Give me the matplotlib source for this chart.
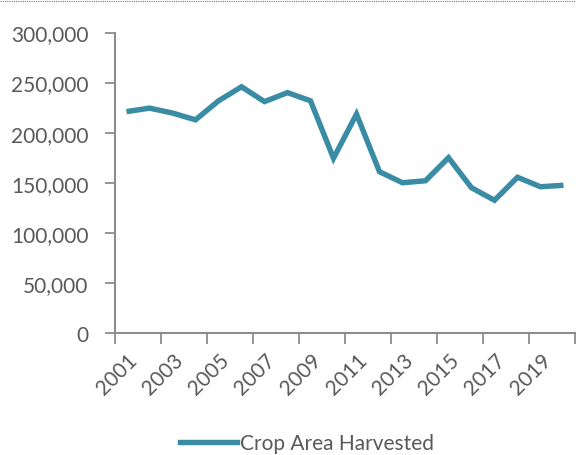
import matplotlib
matplotlib.use("Agg")
import matplotlib.pyplot as plt
from matplotlib.lines import Line2D

years = list(range(2001, 2021))
area = [221000, 224500, 219600, 212800, 231800, 245800, 231000, 240000, 231800, 174500,
        218500, 161000, 150000, 152000, 175000, 145000, 132500, 155500, 146000, 147500]
y_ticks = [0, 50000, 100000, 150000, 200000, 250000, 300000]
series_name = "Crop Area Harvested"

plt.rcParams['font.family'] = ['Lato', 'DejaVu Sans']
W, H = 576, 456
fig = plt.figure(figsize=(W / 100, H / 100), dpi=100)
ax = fig.add_axes([115 / W, 1 - 334 / H, (575 - 115) / W, (334 - 33.5) / H])

col = '#3A8CA4'
grey = '#8C8C8C'
txt = '#595959'
fs = 15
x = list(range(len(years)))
ax.plot(x, area, color=col, lw=3.9, solid_joinstyle='miter', solid_capstyle='butt')

ax.set_xlim(-0.5, len(years) - 0.5)
ax.set_ylim(0, 300000)
ax.set_yticks(y_ticks)
ax.set_yticklabels([f"{v:,}" for v in y_ticks], fontsize=fs, color=txt)
ax.tick_params(axis='y', length=7, width=1.3, color=grey, pad=12)

ax.set_xticks([i - 0.5 for i in range(0, len(years) + 1, 2)])
ax.set_xticklabels([])
ax.tick_params(axis='x', which='major', length=8, width=1.3, color=grey)
ax.set_xticks(x[::2], minor=True)
ax.set_xticklabels([str(y) for y in years[::2]], minor=True, rotation=45,
                   ha='right', va='top', rotation_mode='anchor', fontsize=fs, color=txt)
ax.tick_params(axis='x', which='minor', length=0, pad=12)

for s in ['top', 'right']:
    ax.spines[s].set_visible(False)
for s in ['left', 'bottom']:
    ax.spines[s].set_color(grey)
    ax.spines[s].set_linewidth(1.5)

handle = Line2D([], [], color=col, lw=3.9)
fig.legend([handle], [series_name], loc='center', bbox_to_anchor=(307 / W, 1 - 444 / H),
           frameon=False, fontsize=fs, handlelength=2.7, handletextpad=0.15,
           labelcolor=txt)

fig.add_artist(Line2D([0, 1], [1 - 2 / H, 1 - 2 / H], transform=fig.transFigure,
                      color='#777777', lw=0.8, ls=(0, (1, 1))))

fig.savefig('out.png', dpi=100)
